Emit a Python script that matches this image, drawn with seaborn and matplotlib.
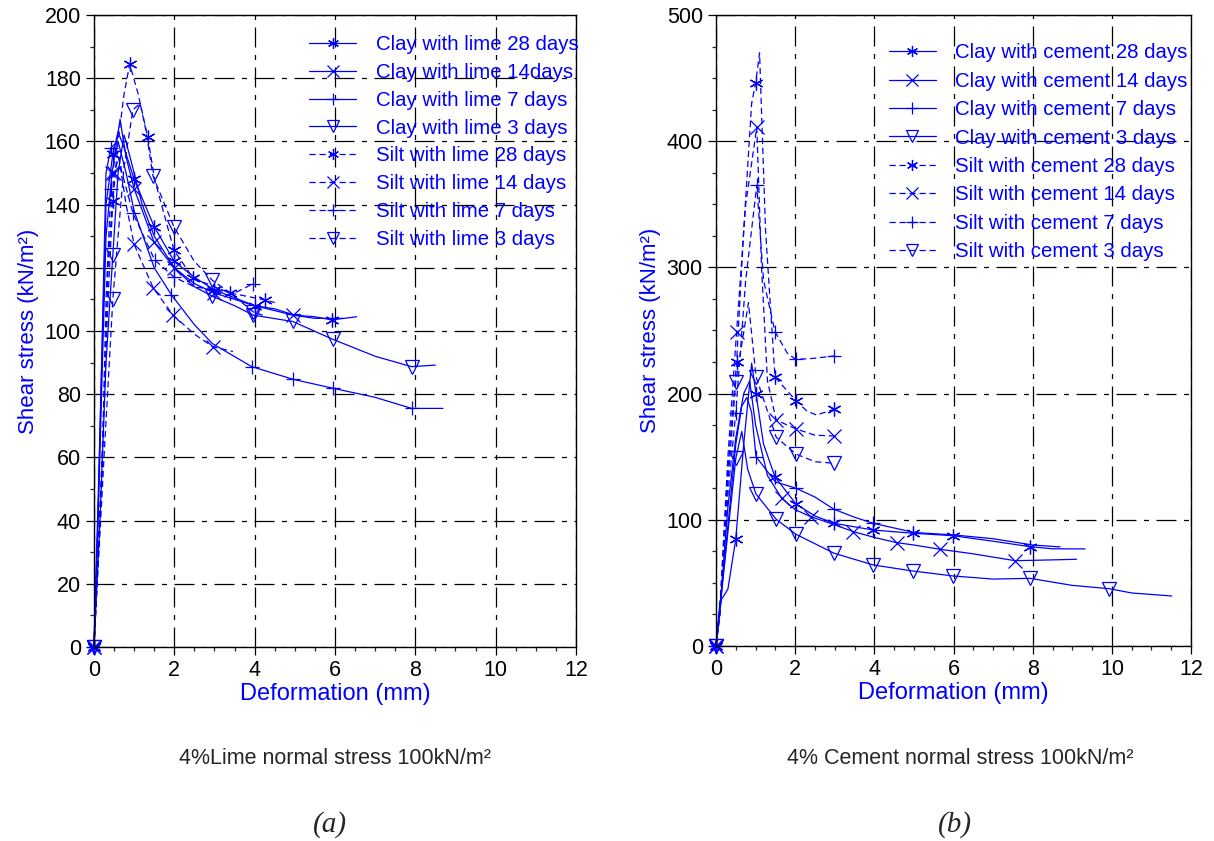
import numpy as np
import pandas as pd
import matplotlib
matplotlib.use("Agg")
import matplotlib.pyplot as plt
from matplotlib.ticker import MultipleLocator
import seaborn as sns

sns.set_style("ticks")
plt.rcParams['font.family'] = ['Liberation Sans', 'DejaVu Sans']

BLUE = '#0000ff'

# ---- (a) 4% lime, normal stress 100 kN/m2 ----
lime_labels = ['Clay with lime 28 days', 'Clay with lime 14days', 'Clay with lime 7 days',
               'Clay with lime 3 days', 'Silt with lime 28 days', 'Silt with lime 14 days',
               'Silt with lime 7 days', 'Silt with lime 3 days']

clay_l28_x = [0, 0.1, 0.3, 0.47, 0.6, 0.75, 1.0, 1.5, 2.0, 2.5, 3.0, 3.4, 4.0, 4.5, 5.0, 5.5, 5.92, 6.54]
clay_l28_y = [0, 45, 140, 156, 163, 158, 148, 133, 122, 117, 113, 111, 108, 107, 105, 104.5, 103.5, 104.5]
clay_l28_m = [0, 3, 6, 7, 8, 10, 12, 16]

clay_l14_x = [0, 0.1, 0.3, 0.45, 0.65, 0.8, 1.0, 1.5, 2.0, 2.5, 3.0, 3.5, 4.0, 4.96, 5.5, 6.2]
clay_l14_y = [0, 40, 130, 150, 167, 155, 145, 128, 120, 115, 112, 110, 108, 105, 104, 104]
clay_l14_m = [0, 3, 6, 7, 8, 10, 13]

clay_l7_x = [0, 0.1, 0.3, 0.42, 0.6, 0.8, 1.0, 1.5, 1.93, 2.5, 2.95, 3.93, 4.96, 5.94, 7.0, 7.91, 8.69]
clay_l7_y = [0, 40, 150, 158, 160, 150, 138, 120, 111.4, 102, 96, 88.7, 84.7, 81.9, 79, 75.5, 75.5]
clay_l7_m = [0, 3, 8, 11, 12, 13, 15]

clay_l3_x = [0, 0.15, 0.3, 0.47, 0.6, 0.75, 0.9, 1.2, 1.5, 2.0, 2.5, 2.95, 3.5, 3.97, 4.95, 5.94, 7.0, 7.91, 8.5]
clay_l3_y = [0, 40, 90, 124, 150, 162, 155, 140, 130, 120, 114, 111, 108, 105, 103, 97.4, 92, 88.7, 89.2]
clay_l3_m = [0, 3, 11, 13, 14, 15, 17]

silt_l28_x = [0, 0.2, 0.35, 0.47, 0.6, 0.75, 0.89, 1.1, 1.34, 1.51, 1.99, 2.47, 3.0, 3.39, 3.8, 4.26, 4.5]
silt_l28_y = [0, 60, 110, 141, 160, 175, 184.5, 175, 161.3, 148, 125.6, 116.7, 114, 112, 111, 109.8, 109]
silt_l28_m = [0, 3, 6, 8, 10, 11, 13, 15]

silt_l14_x = [0, 0.2, 0.35, 0.5, 0.62, 0.8, 1.0, 1.48, 1.97, 2.5, 2.96, 3.46]
silt_l14_y = [0, 55, 120, 150, 155, 140, 127.4, 113.5, 105, 99, 95, 93.5]
silt_l14_m = [0, 3, 6, 7, 8, 10]

silt_l7_x = [0, 0.2, 0.3, 0.42, 0.55, 0.7, 0.97, 1.51, 2.0, 2.5, 3.0, 3.5, 3.97]
silt_l7_y = [0, 55, 110, 145, 158, 150, 137.3, 122.5, 117, 114, 113, 112, 115]
silt_l7_m = [0, 3, 6, 7, 8, 10, 12]

silt_l3_x = [0, 0.25, 0.47, 0.6, 0.75, 0.97, 1.15, 1.3, 1.47, 1.99, 2.5, 2.95, 3.4, 3.97, 4.2]
silt_l3_y = [0, 60, 110, 130, 152, 170, 172, 163, 149, 133, 122, 116, 112, 106, 105]
silt_l3_m = [0, 2, 5, 8, 9, 11, 13]

# ---- (b) 4% cement, normal stress 100 kN/m2 ----
cem_labels = ['Clay with cement 28 days', 'Clay with cement 14 days', 'Clay with cement 7 days',
              'Clay with cement 3 days', 'Silt with cement 28 days', 'Silt with cement 14 days',
              'Silt with cement 7 days', 'Silt with cement 3 days']

clay_c28_x = [0, 0.1, 0.3, 0.5, 0.7, 0.9, 1.01, 1.2, 1.49, 2.02, 2.5, 2.98, 3.97, 4.97, 5.98, 7.0, 7.93, 8.5, 9.32]
clay_c28_y = [0, 35, 45, 85, 160, 224, 200, 160, 134, 112.5, 103, 97.2, 91.9, 89.3, 87.4, 83, 78.7, 77, 76.9]
clay_c28_m = [0, 3, 6, 8, 9, 11, 12, 13, 14, 16]

clay_c14_x = [0, 0.1, 0.3, 0.5, 0.7, 0.85, 1.0, 1.3, 1.66, 2.0, 2.39, 3.0, 3.47, 4.0, 4.56, 5.0, 5.66, 6.5, 7.55, 8.2, 9.11]
clay_c14_y = [0, 30, 110, 165, 200, 210, 175, 135, 117, 108, 102.5, 96, 90.6, 86, 81.9, 80, 76.6, 73, 67.6, 68, 68.7]
clay_c14_m = [0, 8, 10, 12, 14, 16, 18]

clay_c7_x = [0, 0.1, 0.3, 0.5, 0.65, 0.78, 0.9, 1.01, 1.5, 2.02, 2.5, 2.98, 3.5, 3.97, 5.0, 6.0, 7.0, 8.0, 8.69]
clay_c7_y = [0, 30, 95, 160, 190, 197, 185, 150, 130, 125, 118, 108.3, 102, 97.2, 90, 88, 85, 80, 78.5]
clay_c7_m = [0, 7, 9, 11, 13]

clay_c3_x = [0, 0.1, 0.3, 0.5, 0.65, 0.8, 1.01, 1.52, 2.02, 2.98, 3.97, 4.97, 5.98, 7.0, 7.93, 9.0, 9.93, 10.5, 11.51]
clay_c3_y = [0, 30, 90, 148.7, 170, 140, 120.4, 100.4, 88.5, 73.5, 64.2, 59.4, 55.5, 53, 53.6, 48, 45.4, 42, 39.6]
clay_c3_m = [0, 3, 6, 7, 8, 9, 10, 11, 12, 14, 16]

silt_c28_x = [0, 0.1, 0.3, 0.52, 0.7, 0.9, 1.0, 1.1, 1.25, 1.49, 2.02, 2.3, 2.54, 2.98]
silt_c28_y = [0, 30, 140, 225, 330, 430, 446, 470, 330, 213, 194.4, 186, 183, 187.5]
silt_c28_m = [0, 3, 6, 9, 10, 13]

silt_c14_x = [0, 0.1, 0.3, 0.52, 0.75, 1.03, 1.15, 1.3, 1.52, 2.02, 2.5, 2.98]
silt_c14_y = [0, 30, 150, 249, 350, 411, 300, 210, 179, 172, 167, 166.4]
silt_c14_m = [0, 3, 5, 8, 9, 11]

silt_c7_x = [0, 0.1, 0.3, 0.5, 0.75, 1.03, 1.2, 1.49, 1.8, 2.02, 2.5, 2.98]
silt_c7_y = [0, 25, 120, 185, 290, 365, 290, 249, 232, 227, 228, 229.8]
silt_c7_m = [0, 3, 5, 7, 9, 11]

silt_c3_x = [0, 0.1, 0.3, 0.5, 0.82, 1.01, 1.52, 2.02, 2.5, 2.98]
silt_c3_y = [0, 25, 130, 209.5, 272, 213.4, 165.4, 152.1, 146, 144.8]
silt_c3_m = [0, 3, 5, 6, 7, 9]

lime_series = [(clay_l28_x, clay_l28_y, clay_l28_m), (clay_l14_x, clay_l14_y, clay_l14_m),
               (clay_l7_x, clay_l7_y, clay_l7_m), (clay_l3_x, clay_l3_y, clay_l3_m),
               (silt_l28_x, silt_l28_y, silt_l28_m), (silt_l14_x, silt_l14_y, silt_l14_m),
               (silt_l7_x, silt_l7_y, silt_l7_m), (silt_l3_x, silt_l3_y, silt_l3_m)]
cem_series = [(clay_c28_x, clay_c28_y, clay_c28_m), (clay_c14_x, clay_c14_y, clay_c14_m),
              (clay_c7_x, clay_c7_y, clay_c7_m), (clay_c3_x, clay_c3_y, clay_c3_m),
              (silt_c28_x, silt_c28_y, silt_c28_m), (silt_c14_x, silt_c14_y, silt_c14_m),
              (silt_c7_x, silt_c7_y, silt_c7_m), (silt_c3_x, silt_c3_y, silt_c3_m)]

# marker per curing age, solid = clay, dashed = silt
markers = [(6, 2, 0), 'x', '+', 'v'] * 2
styles = ['-'] * 4 + [(0, (5, 3))] * 4


def draw_panel(ax, series, labels, ymax, ymajor, yminor):
    for (x, y, mk), lab, m, ls in zip(series, labels, markers, styles):
        df = pd.DataFrame({'x': x, 'y': y})
        sns.lineplot(data=df, x='x', y='y', ax=ax, sort=False, estimator=None,
                     color=BLUE, lw=0.9, linestyle=ls, marker=m, markevery=mk,
                     markersize=10, markerfacecolor='none', markeredgecolor=BLUE,
                     markeredgewidth=0.9, label=lab, clip_on=False)
    ax.set_xlim(0, 12)
    ax.set_ylim(0, ymax)
    ax.xaxis.set_major_locator(MultipleLocator(2))
    ax.xaxis.set_minor_locator(MultipleLocator(0.5))
    ax.yaxis.set_major_locator(MultipleLocator(ymajor))
    ax.yaxis.set_minor_locator(MultipleLocator(yminor))
    ax.grid(True, which='major', color='black', lw=0.9, linestyle=(0, (16, 6, 4, 6)))
    ax.tick_params(which='major', direction='out', length=6, width=0.9, labelsize=15.5, colors='black')
    ax.tick_params(which='minor', direction='out', length=3, width=0.9)
    for sp in ax.spines.values():
        sp.set_visible(True)
        sp.set_color('black')
        sp.set_linewidth(1)
    ax.set_xlabel('Deformation (mm)', color=BLUE, fontsize=17, labelpad=1)
    ax.set_ylabel('Shear stress (kN/m²)', color=BLUE, fontsize=16, labelpad=4)


fig = plt.figure(figsize=(12.14, 8.41), dpi=100)
ax1 = fig.add_axes([0.0774, 0.2307, 0.397, 0.7515])
ax2 = fig.add_axes([0.5898, 0.2319, 0.3913, 0.7503])

draw_panel(ax1, lime_series, lime_labels, 200, 20, 10)
draw_panel(ax2, cem_series, cem_labels, 500, 100, 25)

for ax, anchor, sp in [(ax1, (0.447, 0.968), 0.43), (ax2, (0.364, 0.955), 0.46)]:
    leg = ax.legend(loc='upper left', bbox_to_anchor=anchor, frameon=False, fontsize=14.7,
                    handlelength=2.3, handletextpad=0.95, labelspacing=sp, borderpad=0,
                    borderaxespad=0, markerscale=0.8)
    for t in leg.get_texts():
        t.set_color(BLUE)

fig.text(335 / 1214, 1 - 758 / 841, '4%Lime normal stress 100kN/m²', ha='center', va='center', fontsize=15.5)
fig.text(960 / 1214, 1 - 758 / 841, '4% Cement normal stress 100kN/m²', ha='center', va='center', fontsize=15.5)
fig.text(330 / 1214, 1 - 825 / 841, '(a)', ha='center', va='center', fontsize=21,
         family='Liberation Serif', style='italic')
fig.text(955 / 1214, 1 - 825 / 841, '(b)', ha='center', va='center', fontsize=21,
         family='Liberation Serif', style='italic')

fig.savefig('out.png', dpi=100)
